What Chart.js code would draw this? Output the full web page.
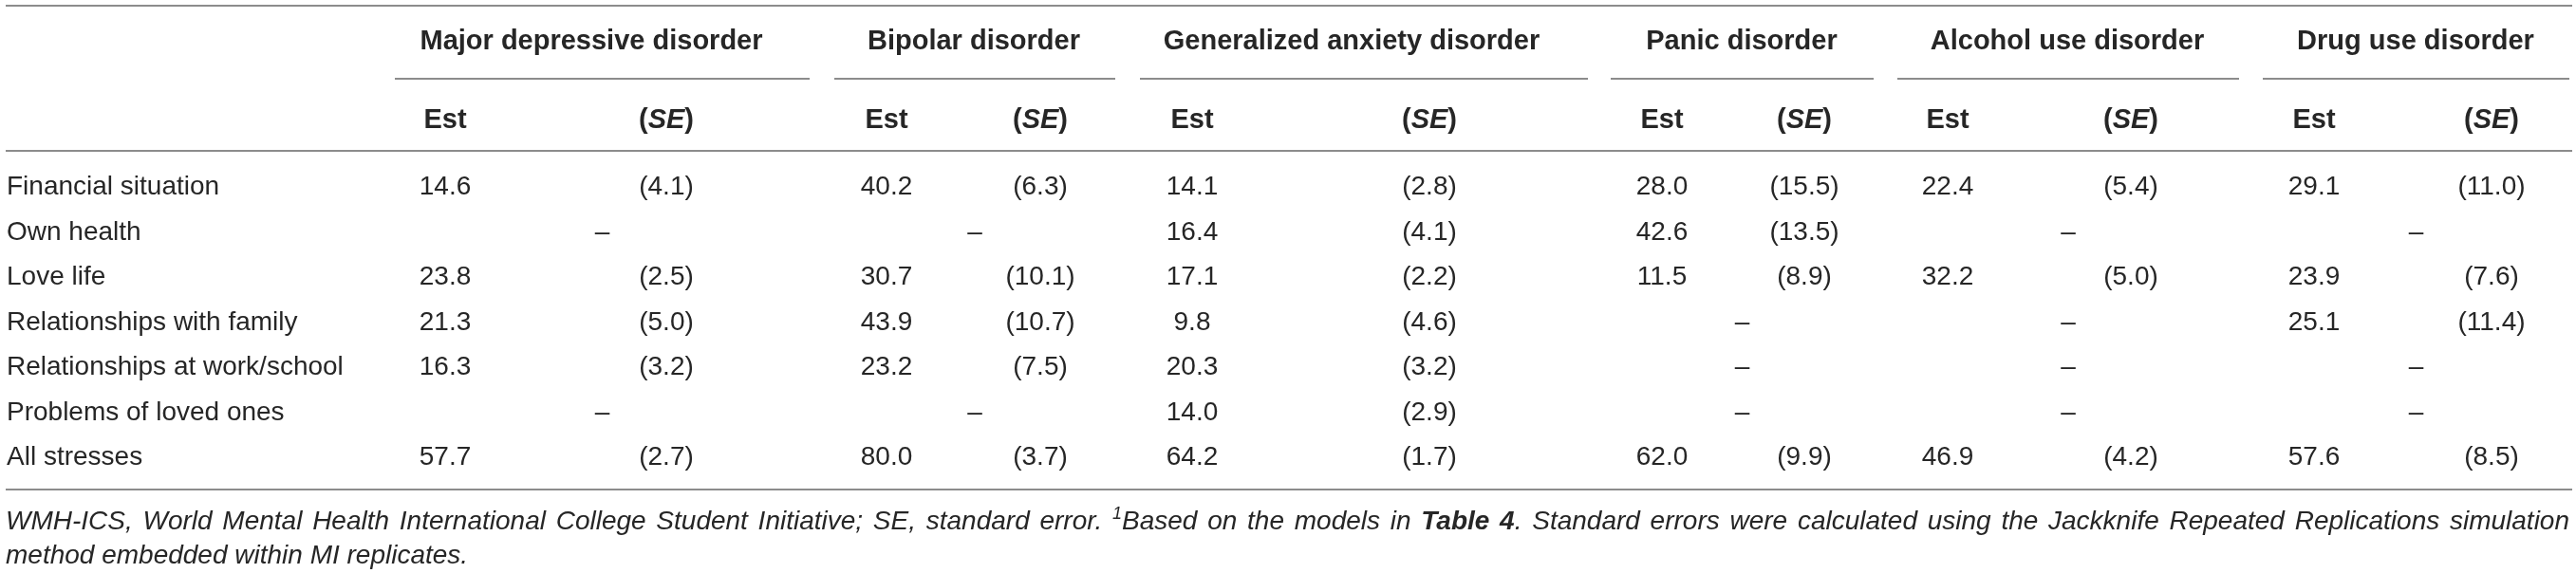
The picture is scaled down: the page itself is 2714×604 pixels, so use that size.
<!DOCTYPE html>
<html>
<head>
<meta charset="utf-8">
<script src="https://cdn.jsdelivr.net/npm/chart.js@4/dist/chart.umd.min.js"></script>
<style>
    html, body { margin: 0; padding: 0; background: #fff; overflow: hidden; }
    canvas { display: block; }
</style>
</head>
<body>
<canvas id="stressTable" width="2714" height="604"></canvas>
<script>
// table content
var stresses = ["Financial situation", "Own health", "Love life", "Relationships with family",
    "Relationships at work/school", "Problems of loved ones", "All stresses"];
var disorders = ["Major depressive disorder", "Bipolar disorder", "Generalized anxiety disorder",
    "Panic disorder", "Alcohol use disorder", "Drug use disorder"];
var subHeads = ["Est", "SE"];

var majorEst = [14.6, null, 23.8, 21.3, 16.3, null, 57.7];
var majorSE = [4.1, null, 2.5, 5.0, 3.2, null, 2.7];
var bipolarEst = [40.2, null, 30.7, 43.9, 23.2, null, 80.0];
var bipolarSE = [6.3, null, 10.1, 10.7, 7.5, null, 3.7];
var anxietyEst = [14.1, 16.4, 17.1, 9.8, 20.3, 14.0, 64.2];
var anxietySE = [2.8, 4.1, 2.2, 4.6, 3.2, 2.9, 1.7];
var panicEst = [28.0, 42.6, 11.5, null, null, null, 62.0];
var panicSE = [15.5, 13.5, 8.9, null, null, null, 9.9];
var alcoholEst = [22.4, null, 32.2, null, null, null, 46.9];
var alcoholSE = [5.4, null, 5.0, null, null, null, 4.2];
var drugEst = [29.1, null, 23.9, 25.1, null, null, 57.6];
var drugSE = [11.0, null, 7.6, 11.4, null, null, 8.5];

var footLine1 = [
    { text: "WMH-ICS, World Mental Health International College Student Initiative; SE, standard error. ", kind: "it" },
    { text: "1", kind: "sup" },
    { text: "Based on the models in ", kind: "it" },
    { text: "Table 4", kind: "bi" },
    { text: ". Standard errors were calculated using the Jackknife Repeated Replications simulation", kind: "it" }
];
var footLine2 = [{ text: "method embedded within MI replicates.", kind: "it" }];

// layout (pixels on the x scale, which runs 0..2714)
var colLayout = {
    estX: [469, 934, 1256, 1751, 2052, 2438],
    seX: [702, 1096, 1506, 1901, 2245, 2625],
    lineFrom: [416, 879, 1201, 1697, 1999, 2384],
    lineTo: [853, 1175, 1673, 1974, 2359, 2707],
    headX: [623, 1026, 1424, 1835, 2178, 2545]
};
var ink = "#262626";
var ruleColor = "#8c8c8c";
var family = "'Liberation Sans', Arial, sans-serif";

var groups = [
    [majorEst, majorSE], [bipolarEst, bipolarSE], [anxietyEst, anxietySE],
    [panicEst, panicSE], [alcoholEst, alcoholSE], [drugEst, drugSE]
];

function buildDatasets() {
    var sets = [];
    groups.forEach(function (g, gi) {
        var est = [], se = [], dash = [];
        var mid = (colLayout.lineFrom[gi] + colLayout.lineTo[gi]) / 2;
        stresses.forEach(function (s, ri) {
            if (g[0][ri] == null) {
                dash.push({ x: mid, y: s, t: "\u2013" });
            } else {
                est.push({ x: colLayout.estX[gi], y: s, t: g[0][ri].toFixed(1) });
                se.push({ x: colLayout.seX[gi], y: s, t: "(" + g[1][ri].toFixed(1) + ")" });
            }
        });
        sets.push({ label: disorders[gi] + " Est", data: est });
        sets.push({ label: disorders[gi] + " SE", data: se });
        sets.push({ label: disorders[gi] + " missing", data: dash });
    });
    return sets;
}

function fontFor(kind) {
    if (kind == "bi") return "italic bold 28px " + family;
    if (kind == "sup") return "italic 18px " + family;
    if (kind == "b") return "bold 29px " + family;
    if (kind == "it") return "italic 28px " + family;
    return "28px " + family;
}

function splitWords(runs) {
    var words = [];
    var cur = null;
    runs.forEach(function (r) {
        r.text.split(" ").forEach(function (p, i) {
            if (i > 0) cur = null;
            if (p === "") return;
            if (!cur) { cur = []; words.push(cur); }
            cur.push({ text: p, kind: r.kind });
        });
    });
    return words;
}

function drawLine(ctx, runs, x0, x1, baseY, justify) {
    var words = splitWords(runs);
    var widths = words.map(function (w) {
        return w.reduce(function (acc, r) {
            ctx.font = fontFor(r.kind);
            return acc + ctx.measureText(r.text).width;
        }, 0);
    });
    ctx.font = fontFor("it");
    var gap = ctx.measureText(" ").width;
    if (justify && words.length > 1) {
        var total = widths.reduce(function (a, b) { return a + b; }, 0);
        gap = (x1 - x0 - total) / (words.length - 1);
    }
    var x = x0;
    ctx.textAlign = "left";
    words.forEach(function (w, wi) {
        w.forEach(function (r) {
            ctx.font = fontFor(r.kind);
            ctx.fillText(r.text, x, r.kind == "sup" ? baseY - 11 : baseY);
            x += ctx.measureText(r.text).width;
        });
        x += gap;
    });
}

function hRule(ctx, x0, x1, y, w) {
    ctx.beginPath();
    ctx.lineWidth = w;
    ctx.strokeStyle = ruleColor;
    ctx.moveTo(x0, y);
    ctx.lineTo(x1, y);
    ctx.stroke();
}

var tablePlugin = {
    id: "tableText",
    afterDatasetsDraw: function (chart) {
        var ctx = chart.ctx;
        var xs = chart.scales.x;
        var ys = chart.scales.y;
        ctx.save();
        ctx.fillStyle = ink;
        ctx.textBaseline = "alphabetic";

        // rules
        hRule(ctx, xs.getPixelForValue(6), xs.getPixelForValue(2710), 6, 2);
        colLayout.lineFrom.forEach(function (f, i) {
            hRule(ctx, xs.getPixelForValue(f), xs.getPixelForValue(colLayout.lineTo[i]), 83, 2);
        });
        hRule(ctx, xs.getPixelForValue(6), xs.getPixelForValue(2710), 159, 2);
        hRule(ctx, xs.getPixelForValue(6), xs.getPixelForValue(2710), 516, 2);

        // headers
        ctx.textAlign = "center";
        ctx.font = fontFor("b");
        disorders.forEach(function (d, i) {
            ctx.fillText(d, xs.getPixelForValue(colLayout.headX[i]), 52);
            ctx.font = fontFor("b");
            ctx.fillText(subHeads[0], xs.getPixelForValue(colLayout.estX[i]), 135);
            // (SE) with italic SE
            var sx = xs.getPixelForValue(colLayout.seX[i]);
            var wP = ctx.measureText("(").width;
            var wC = ctx.measureText(")").width;
            ctx.font = "italic " + fontFor("b");
            var wS = ctx.measureText(subHeads[1]).width;
            var left = sx - (wP + wS + wC) / 2;
            ctx.textAlign = "left";
            ctx.font = fontFor("b");
            ctx.fillText("(", left, 135);
            ctx.font = "italic " + fontFor("b");
            ctx.fillText(subHeads[1], left + wP, 135);
            ctx.font = fontFor("b");
            ctx.fillText(")", left + wP + wS, 135);
            ctx.textAlign = "center";
        });

        // row labels
        ctx.textAlign = "left";
        ctx.font = fontFor("r");
        stresses.forEach(function (s, i) {
            ctx.fillText(s, 7, ys.getPixelForValue(i) + 10);
        });

        // cells
        ctx.textAlign = "center";
        chart.data.datasets.forEach(function (ds, di) {
            var meta = chart.getDatasetMeta(di);
            meta.data.forEach(function (el, i) {
                ctx.fillText(ds.data[i].t, el.x, el.y + 10);
            });
        });

        // footnote
        drawLine(ctx, footLine1, 6, 2707, 558, true);
        drawLine(ctx, footLine2, 6, 2707, 594, false);
        ctx.restore();
    }
};

var ctx = document.getElementById("stressTable").getContext("2d");
var myChart = new Chart(ctx, {
    type: "scatter",
    data: { datasets: buildDatasets() },
    options: {
        responsive: false,
        devicePixelRatio: 1,
        animation: false,
        events: [],
        layout: { padding: { top: 195, bottom: 124, left: 0, right: 0 } },
        elements: { point: { radius: 0, hoverRadius: 0 } },
        plugins: { legend: { display: false }, tooltip: { enabled: false } },
        scales: {
            x: { type: "linear", min: 0, max: 2714, display: false },
            y: { type: "category", labels: stresses, offset: false, display: false }
        }
    },
    plugins: [tablePlugin]
});
</script>
</body>
</html>
